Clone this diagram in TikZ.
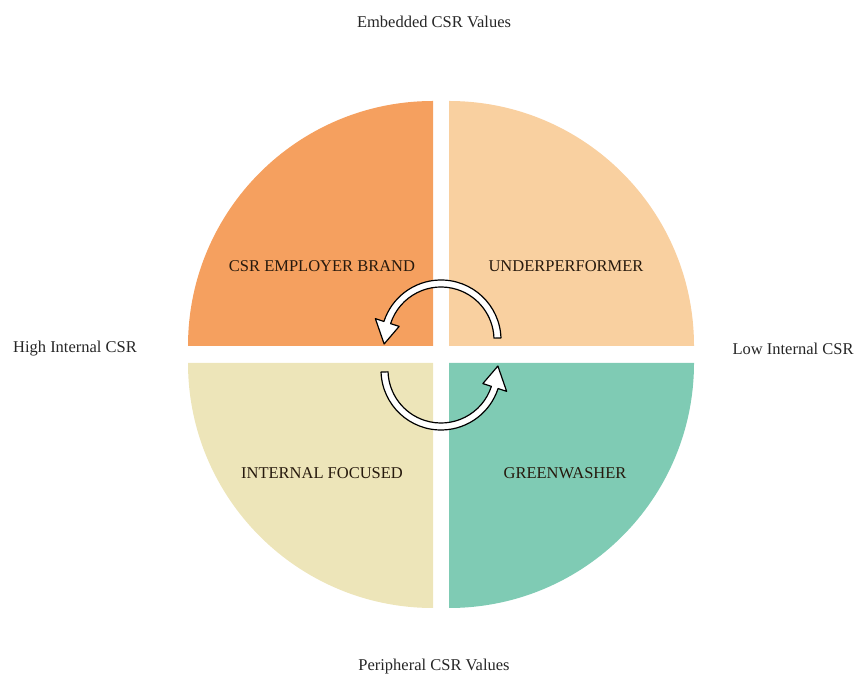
\documentclass[tikz,border=0pt]{standalone}
\usepackage{fontspec}
\setmainfont{Liberation Serif}
\usetikzlibrary{positioning}
\definecolor{brandorange}{RGB}{245,160,95}
\definecolor{underpeach}{RGB}{249,208,160}
\definecolor{internalsand}{RGB}{237,229,185}
\definecolor{greenteal}{RGB}{127,203,180}
\begin{document}
\begin{tikzpicture}[x=1pt, y=1pt,
   axis/.style={font=\fontsize{16.5}{19}\selectfont, text=black!85, inner sep=0pt},
   quad/.style={font=\fontsize{16.5}{19}\selectfont, text=black!80!brown, inner sep=0pt},
   turn/.style={draw=black, fill=white, line width=1.2pt, line join=round}]
   \useasboundingbox (0,0) rectangle (856,677);

   % Four quarters of the circle
   \fill[brandorange] (433,331) -- ++(-245,0) arc[start angle=180, end angle=90, radius=245] -- cycle;
   \fill[underpeach] (449,331) -- ++(0,245) arc[start angle=90, end angle=0, radius=245] -- cycle;
   \fill[internalsand] (433,314) -- ++(0,-245) arc[start angle=270, end angle=180, radius=245] -- cycle;
   \fill[greenteal] (449,314) -- ++(245,0) arc[start angle=0, end angle=-90, radius=245] -- cycle;

   % Quarter labels
   \node[quad] (brand) at (322,411) {CSR EMPLOYER BRAND};
   \node[quad] (under) at (566,411) {UNDERPERFORMER};
   \node[quad] (focus) at (322,204) {INTERNAL FOCUSED};
   \node[quad] (green) at (565,204) {GREENWASHER};

   % Axis labels
   \node[axis] (embedded) at (434,655) {Embedded CSR Values};
   \node[axis] (peripheral) at (434,10) {Peripheral CSR Values};
   \node[axis] (high) at (75,328) {High Internal CSR};
   \node[axis] (low) at (793,328) {Low Internal CSR};

   % Turning arrows
   \begin{scope}[shift={(441,337)}]
     \draw[turn] (2:60) arc[start angle=2, end angle=162, radius=60]
       -- (162:69) -- (184:57) -- (162:44) -- (162:53)
       arc[start angle=162, end angle=2, radius=53] -- cycle;
   \end{scope}
   \begin{scope}[shift={(441,307)}, rotate=180]
     \draw[turn] (2:60) arc[start angle=2, end angle=162, radius=60]
       -- (162:69) -- (184:57) -- (162:44) -- (162:53)
       arc[start angle=162, end angle=2, radius=53] -- cycle;
   \end{scope}
\end{tikzpicture}
\end{document}
